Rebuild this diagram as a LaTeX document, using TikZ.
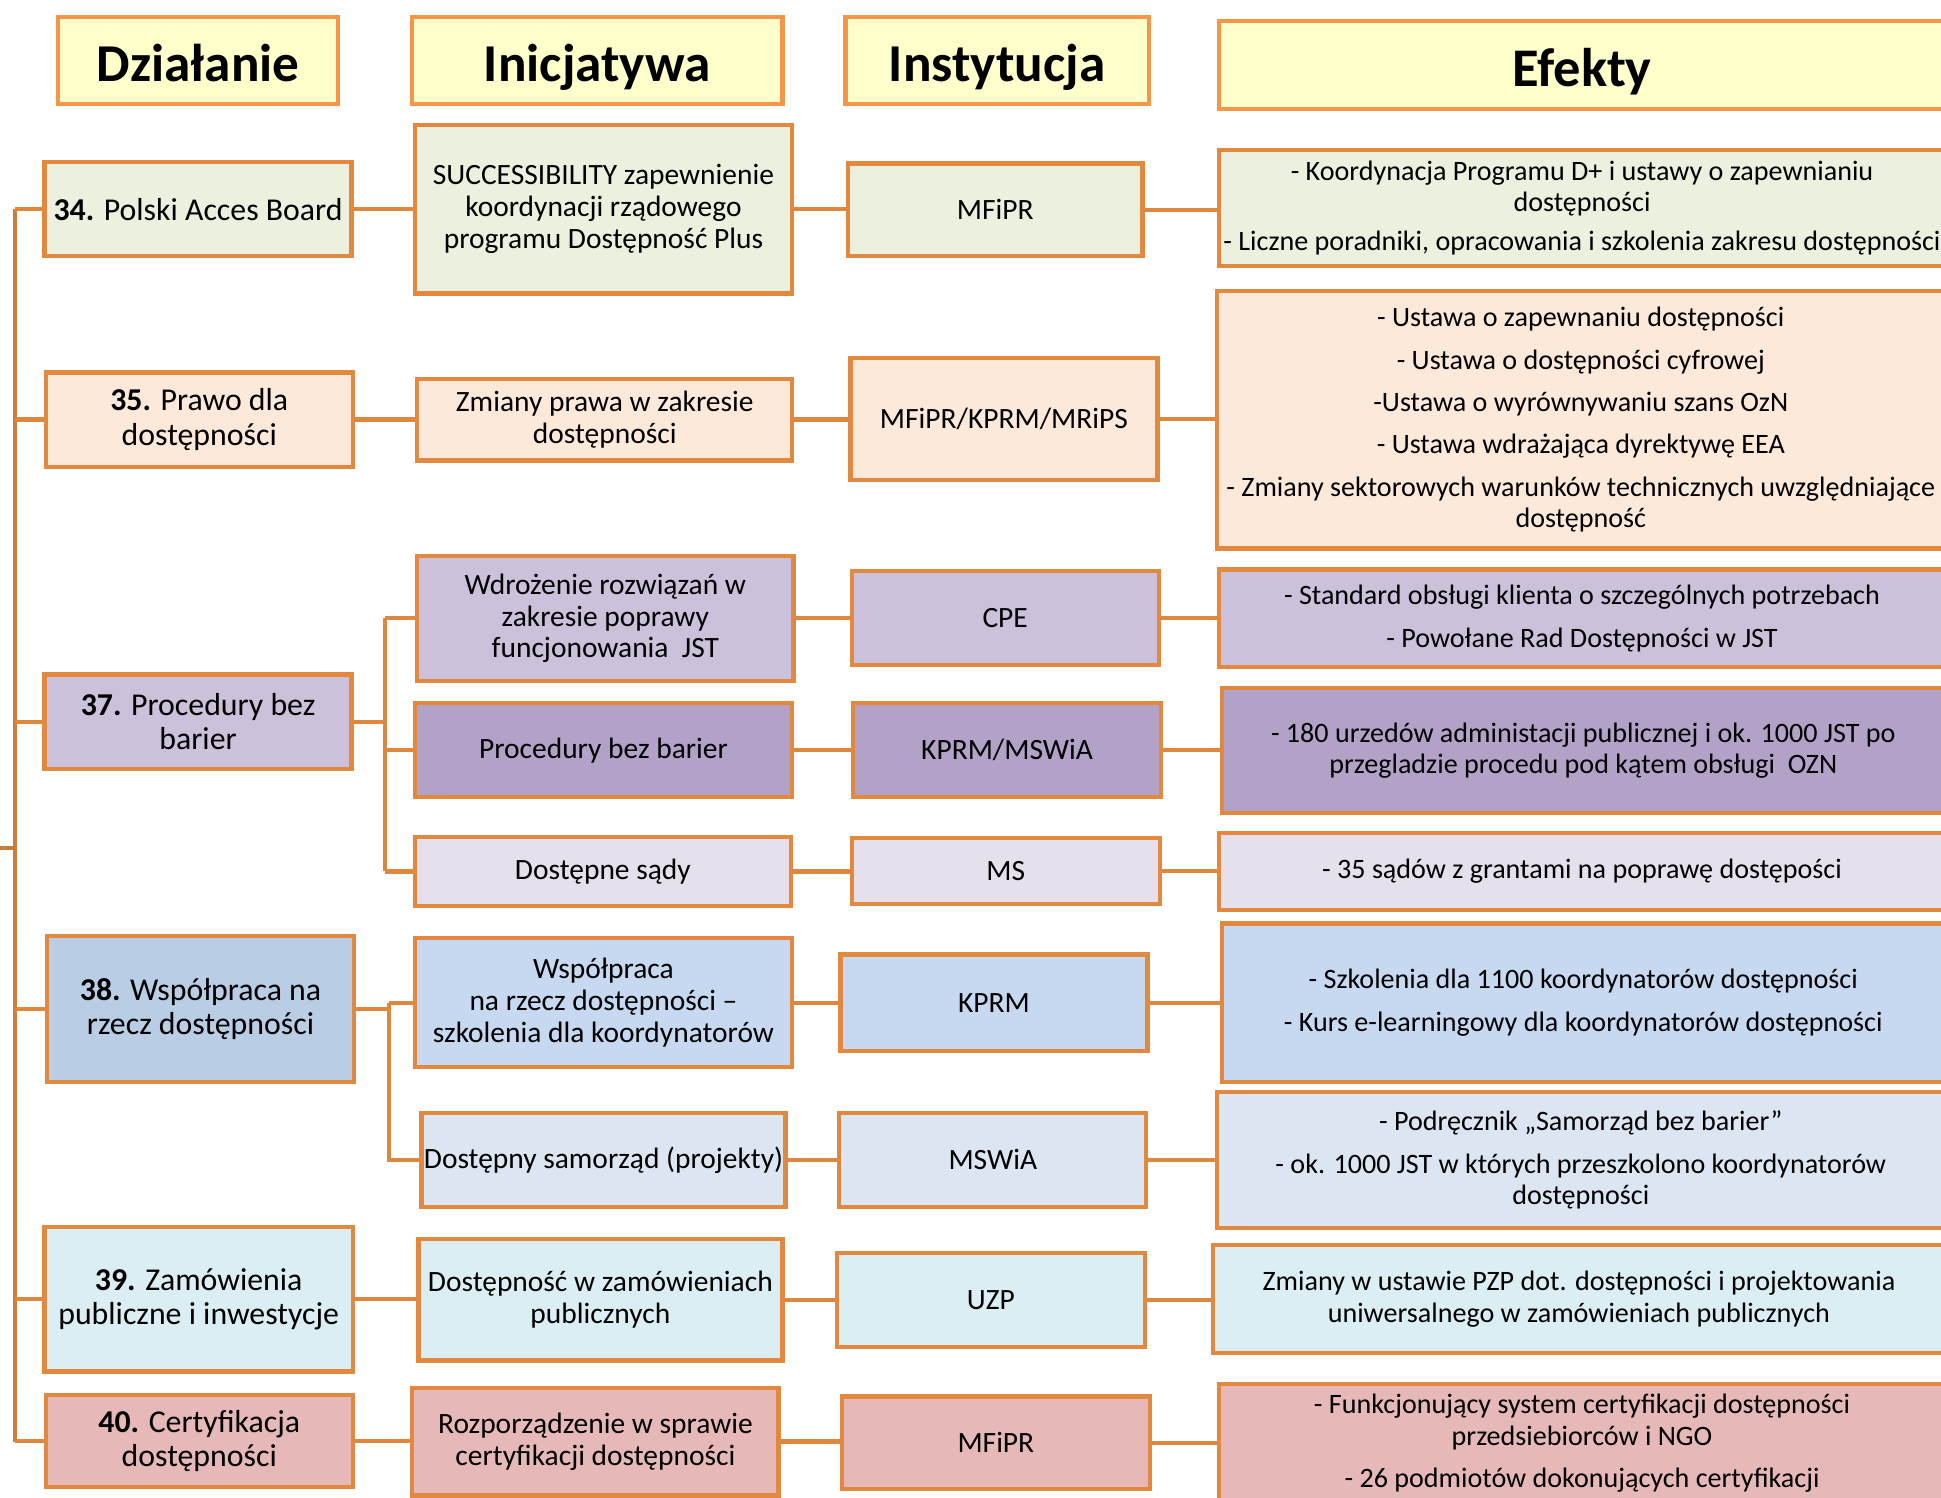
\documentclass[tikz,border=0pt]{standalone}
\usepackage{fontspec}
\setmainfont{Carlito}
\definecolor{boxc}{HTML}{E2893F}
\definecolor{hdrc}{HTML}{F79646}
\definecolor{hdrfill}{HTML}{FFFFCC}
\definecolor{connc}{HTML}{DE873F}
\definecolor{busc}{HTML}{CC7D3C}
\definecolor{cA}{HTML}{EBF1DE}
\definecolor{cB}{HTML}{FDE9D9}
\definecolor{cC}{HTML}{CCC1DA}
\definecolor{cCd}{HTML}{B3A2C7}
\definecolor{cCl}{HTML}{E5E0EC}
\definecolor{cD}{HTML}{B9CDE5}
\definecolor{cDm}{HTML}{C6D9F1}
\definecolor{cDl}{HTML}{DCE6F2}
\definecolor{cE}{HTML}{DBEEF4}
\definecolor{cF}{HTML}{E6B9B8}
\newcommand{\bodyfnt}{\fontsize{23.8}{25.8}\selectfont}
\newcommand{\dzfnt}{\fontsize{25.7}{28}\selectfont}
\newcommand{\effnt}{\fontsize{22.7}{25.3}\selectfont}
\newcommand{\headfnt}{\fontsize{43}{48}\selectfont\bfseries}
\tikzset{
  box/.style={draw=boxc, line width=3.5pt, align=center, inner sep=2pt, font=\bodyfnt, text=black},
  dzbox/.style={box, font=\dzfnt},
  efbox/.style={box, font=\effnt},
  hdr/.style={draw=hdrc, fill=hdrfill, line width=3.5pt, font=\headfnt, text=black, text height=34pt, text depth=0pt},
  conn/.style={draw=connc, line width=3.5pt},
  bus/.style={draw=busc, line width=3.5pt},
}
\newcommand{\mybox}[8][box]{\node[#1, fill=#3, minimum width=#6, minimum height=#7] (#2) at (#4,#5) {#8};}
\begin{document}
\begin{tikzpicture}[x=1pt,y=-1pt]
\useasboundingbox (0,0) rectangle (1568,1210);
\clip (0,0) rectangle (1568,1210);
% headers
\node[hdr, minimum width=226, minimum height=70] (hDz) at (160,49) {Działanie};
\node[hdr, minimum width=299, minimum height=70] (hIn) at (482.5,49) {Inicjatywa};
\node[hdr, minimum width=245, minimum height=70] (hInst) at (805.5,49) {Instytucja};
\node[hdr, minimum width=586, minimum height=71, font=\fontsize{44}{48}\selectfont\bfseries] (hEf) at (1278,52.5) {Efekty};
% row 34
\mybox[dzbox]{d34}{cA}{160}{169}{248}{76}{\textbf{34.} Polski Acces Board}
\mybox{i34}{cA}{487.5}{169}{305}{136}{SUCCESSIBILITY zapewnienie\\koordynacji rządowego\\programu Dostępność Plus}
\mybox{n34}{cA}{804}{169.5}{238}{75}{MFiPR}
\mybox[efbox]{e34}{cA}{1278}{168}{586}{94}{- Koordynacja Programu D+ i ustawy o zapewnianiu\\dostępności\\[6pt]- Liczne poradniki, opracowania i szkolenia zakresu dostępności}
% row 35
\mybox[dzbox]{d35}{cB}{161}{339}{248}{76}{\textbf{35.} Prawo dla\\dostępności}
\mybox{i35}{cB}{488.5}{339}{303}{66}{Zmiany prawa w zakresie\\dostępności}
\mybox{n35}{cB}{811}{338.5}{248}{99}{MFiPR/KPRM/MRiPS}
\mybox[efbox]{e35}{cB}{1277}{339}{588}{208}{- Ustawa o zapewnaniu dostępności\\[9pt]- Ustawa o dostępności cyfrowej\\[9pt]-Ustawa o wyrównywaniu szans OzN\\[9pt]- Ustawa wdrażająca dyrektywę EEA\\[9pt]- Zmiany sektorowych warunków technicznych uwzględniające\\dostępność}
% row 37
\mybox[dzbox]{d37}{cC}{160}{583}{248}{76}{\textbf{37.} Procedury bez\\barier}
\mybox{i37a}{cC}{489}{499.5}{304}{101}{Wdrożenie rozwiązań w\\zakresie poprawy\\funcjonowania~~JST}
\mybox{n37a}{cC}{812}{499}{248}{76}{CPE}
\mybox[efbox]{e37a}{cC}{1278}{499.5}{586}{79}{- Standard obsługi klienta o szczególnych potrzebach\\[9.5pt]- Powołane Rad Dostępności w JST}
\mybox{i37b}{cCd}{487.5}{606}{305}{76}{Procedury bez barier}
\mybox{n37b}{cCd}{813.5}{606}{249}{76}{KPRM/MSWiA}
\mybox[efbox]{e37b}{cCd}{1279}{606.5}{584}{101}{- 180 urzedów administacji publicznej i ok. 1000 JST po\\przegladzie procedu pod kątem obsługi~~OZN}
\mybox{i37c}{cCl}{487}{704}{304}{56}{Dostępne sądy}
\mybox{n37c}{cCl}{812.5}{703.5}{249}{53}{MS}
\mybox[efbox]{e37c}{cCl}{1278}{704}{586}{62}{- 35 sądów z grantami na poprawę dostępości}
% row 38
\mybox[dzbox]{d38}{cD}{162}{815}{248}{118}{\textbf{38.} Współpraca na\\rzecz dostępności}
\mybox{i38a}{cDm}{487.5}{810}{305}{104}{Współpraca\\na rzecz dostępności –\\szkolenia dla koordynatorów}
\mybox{n38a}{cDm}{803}{810}{248}{78}{KPRM}
\mybox[efbox]{e38a}{cDm}{1279}{810}{584}{128}{- Szkolenia dla 1100 koordynatorów dostępności\\[9.5pt]- Kurs e-learningowy dla koordynatorów dostępności}
\mybox{i38b}{cDl}{487.5}{937}{293}{76}{Dostępny samorząd (projekty)}
\mybox{n38b}{cDl}{802}{937}{248}{76}{MSWiA}
\mybox[efbox]{e38b}{cDl}{1277}{937}{588}{110}{- Podręcznik „Samorząd bez barier”\\[9.5pt]- ok. 1000 JST w których przeszkolono koordynatorów\\dostępności}
% row 39
\mybox[dzbox]{d39}{cE}{160.5}{1049.5}{249}{117}{\textbf{39.} Zamówienia\\publiczne i inwestycje}
\mybox{i39}{cE}{485}{1050}{294}{98}{Dostępność w zamówieniach\\publicznych}
\mybox{n39}{cE}{800.5}{1050}{249}{76}{UZP}
\mybox[efbox]{e39}{cE}{1275.5}{1049.5}{591}{87}{Zmiany w ustawie PZP dot. dostępności i projektowania\\uniwersalnego w zamówieniach publicznych}
% row 40
\mybox[dzbox]{d40}{cF}{161}{1164}{248}{74}{\textbf{40.} Certyfikacja\\dostępności}
\mybox{i40}{cF}{481}{1164.5}{296}{87}{Rozporządzenie w sprawie\\certyfikacji dostępności}
\mybox{n40}{cF}{804.5}{1165.5}{249}{75}{MFiPR}
\mybox[efbox]{e40}{cF}{1278}{1166}{586}{96}{- Funkcjonujący system certyfikacji dostępności\\przedsiebiorców i NGO\\[9pt]- 26 podmiotów dokonujących certyfikacji}
% bus
\coordinate (bTop) at (12,169);
\coordinate (bBot) at (12,1165);
\coordinate (bStub) at (0,685);
\draw[bus] (bTop) -- (bBot);
\draw[bus] (bStub) -- (bStub -| bTop);
\foreach \d in {d34,d35,d37,d38,d39,d40}{
  \draw[conn] (\d.west -| bTop) -- (\d.west);
}
% straight connectors
\foreach \a/\b in {d34/i34,i34/n34,n34/e34,d35/i35,i35/n35,n35/e35,
  i37a/n37a,n37a/e37a,i37b/n37b,n37b/e37b,i37c/n37c,n37c/e37c,
  i38a/n38a,n38a/e38a,i38b/n38b,n38b/e38b,
  d39/i39,i39/n39,n39/e39,d40/i40,i40/n40,n40/e40}{
  \draw[conn] (\a.east) -- (\a.east -| \b.west);
}
% row 37 tree
\coordinate (j37) at (311,583);
\draw[conn] (d37.east) -- (j37);
\draw[conn] (j37 |- i37a.west) -- (j37 |- i37c.west);
\foreach \t in {i37a,i37b,i37c}{ \draw[conn] (j37 |- \t.west) -- (\t.west); }
% row 38 tree
\coordinate (j38) at (314,815);
\draw[conn] (d38.east) -- (j38);
\draw[conn] (j38 |- i38a.west) -- (i38a.west);
\draw[conn] (j38 |- i38a.west) -- (j38 |- i38b.west) -- (i38b.west);
\end{tikzpicture}
\end{document}
